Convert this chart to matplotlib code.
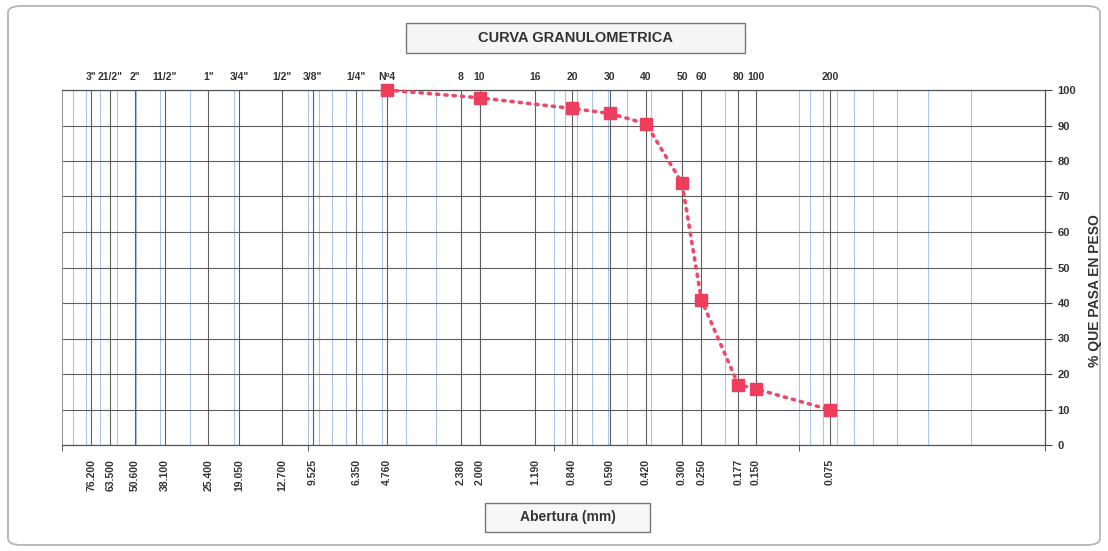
import numpy as np
import matplotlib.pyplot as plt
from matplotlib.patches import Rectangle, FancyBboxPatch
from matplotlib.ticker import FixedLocator, NullFormatter, NullLocator

plt.rcParams['font.family'] = ['Liberation Sans', 'DejaVu Sans']

# sieve series (name on top, opening in mm at the bottom)
sieve_names = ['3"', '21/2"', '2"', '11/2"', '1"', '3/4"', '1/2"', '3/8"', '1/4"', 'Nº4',
               '8', '10', '16', '20', '30', '40', '50', '60', '80', '100', '200']
sieve_mm = [76.2, 63.5, 50.6, 38.1, 25.4, 19.05, 12.7, 9.525, 6.35, 4.76,
            2.38, 2.0, 1.19, 0.84, 0.59, 0.42, 0.30, 0.25, 0.177, 0.15, 0.075]
mm_labels = ['76.200', '63.500', '50.600', '38.100', '25.400', '19.050', '12.700', '9.525',
             '6.350', '4.760', '2.380', '2.000', '1.190', '0.840', '0.590', '0.420',
             '0.300', '0.250', '0.177', '0.150', '0.075']

# grading curve
abertura = [4.76, 2.0, 0.84, 0.59, 0.42, 0.30, 0.25, 0.177, 0.15, 0.075]
pasa = [100, 97.8, 94.8, 93.4, 90.5, 73.8, 40.8, 17.0, 15.8, 9.9]

fig = plt.figure(figsize=(11.08, 5.51), dpi=100)
ax = fig.add_axes([62/1108, 1-445/551, (1045-62)/1108, (445-90)/551])

ax.set_xscale('log')
ax.set_xlim(100, 0.01)
ax.set_ylim(0, 100)

# light blue log grid
for dec in [0.01, 0.1, 1, 10]:
    for k in range(1, 10):
        ax.axvline(dec*k, color='#a9c6e6', lw=0.8, zorder=0)

# dark grid on the sieves and every 10 %
ax.set_xticks(sieve_mm)
ax.set_xticklabels(mm_labels, rotation=90, fontsize=7.5, fontweight='bold', color='#333333')
ax.xaxis.set_minor_locator(FixedLocator([100, 10, 1, 0.1, 0.01]))
ax.xaxis.set_minor_formatter(NullFormatter())
ax.tick_params(axis='x', which='major', length=0, pad=10)
ax.tick_params(axis='x', which='minor', length=4, direction='out', color='#444444')
ax.grid(True, which='major', axis='both', color='#5e5e5e', lw=0.8, zorder=1)

ax.set_yticks(np.arange(0, 101, 10))
ax.yaxis.tick_right()
ax.tick_params(axis='y', length=5, direction='out', color='#444444',
               labelsize=8, pad=4, labelcolor='#333333')
for lab in ax.get_yticklabels():
    lab.set_fontweight('bold')

ax.spines['left'].set_color('#9a9a9a')
for s in ['right', 'bottom', 'top']:
    ax.spines[s].set_color('#555555')
    ax.spines[s].set_linewidth(0.9)

top = ax.secondary_xaxis('top')
top.set_xticks(sieve_mm)
top.set_xticklabels(sieve_names, fontsize=7.5, fontweight='bold', color='#333333')
top.xaxis.set_minor_locator(NullLocator())
top.tick_params(which='both', length=0, pad=6)
top.spines['top'].set_visible(False)

ax.plot(abertura, pasa, linestyle=(0, (0.6, 1.7)), lw=2.6, color='#ef4868',
        marker='s', markersize=9, markerfacecolor='#ef3d5e', markeredgecolor='#ef3d5e',
        zorder=5, dash_capstyle='round', clip_on=False)

# boxed title and axis label
fig.patches.append(FancyBboxPatch((8/1108, 6/551), 1092/1108, 539/551,
                                  boxstyle='round,pad=0,rounding_size=0.012',
                                  transform=fig.transFigure, fill=False,
                                  edgecolor='#b5b5b5', lw=1.3))
fig.patches.append(Rectangle((406/1108, 1-53/551), 339/1108, 30/551,
                             transform=fig.transFigure, facecolor='#f5f5f5',
                             edgecolor='#777777', lw=1.0))
fig.text(575.5/1108, 1-38/551, 'CURVA GRANULOMETRICA', ha='center', va='center',
         fontsize=10.5, fontweight='bold', color='#333333')
fig.patches.append(Rectangle((485/1108, 1-532/551), 165/1108, 29/551,
                             transform=fig.transFigure, facecolor='#f7f7f7',
                             edgecolor='#777777', lw=1.0))
fig.text(567.5/1108, 1-517/551, 'Abertura (mm)', ha='center', va='center',
         fontsize=10, fontweight='bold', color='#333333')
fig.text(1095/1108, 1-291/551, '% QUE PASA EN PESO', ha='center', va='center',
         rotation=90, fontsize=10, fontweight='bold', color='#333333')

fig.savefig('out.png', dpi=100)
